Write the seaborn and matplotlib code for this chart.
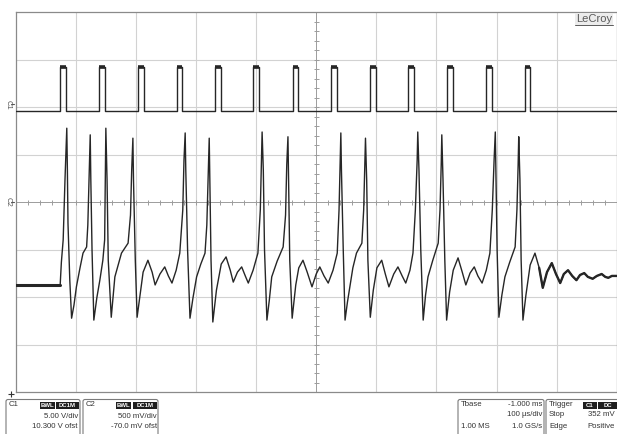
#!/usr/bin/env python
# -*- coding: utf-8 -*-

######################################################
# LeCroy scope capture: stimulus pulses (C1) and
# spiking response (C2), redrawn with seaborn
######################################################

import numpy as np
import pandas as pd
import matplotlib.pyplot as plt
import seaborn as sns
from matplotlib.patches import FancyBboxPatch, Rectangle

OUTPUT = "out.png"

# scope settings
T_DIV = 100.0          # us / div
C1_VDIV = 5.0          # V / div
C1_OFFSET = 10.3       # V
C2_VDIV = 500.0        # mV / div
C2_OFFSET = -70.0      # mV

# C1: pulse train, rising edges in us from left edge of screen
C1_RISE_US = [74, 139, 204, 268, 332, 395, 461, 525, 590, 653, 718, 783, 847]
C1_WIDTH_US = 9
C1_LOW_V = -0.65
C1_HIGH_V = 3.95

# C2: response trace, vertices (us, mV)
C2_TIME_US = [
    0, 74, 76, 79, 82, 85, 86, 87, 90, 93, 97, 101, 107, 112, 118, 120, 122, 124,
    125, 127, 130, 135, 140, 145, 148, 149, 150, 152, 154, 159, 165, 176, 187,
    191, 193, 195, 196, 199, 202, 207, 212, 220, 227, 232, 240, 248, 254, 260,
    267, 273, 278, 280, 282, 283, 286, 290, 295, 301, 308, 315, 318, 320, 322,
    323, 325, 328, 334, 342, 350, 357, 362, 369, 376, 382, 387, 395, 403, 407,
    409, 410, 412, 414, 418, 422, 426, 435, 445, 449, 451, 453, 454, 456, 460,
    466, 471, 478, 485, 493, 500, 506, 513, 520, 528, 535, 538, 540, 541, 542,
    545, 548, 552, 556, 561, 567, 576, 579, 581, 582, 584, 586, 590, 595, 601,
    609, 615, 621, 629, 636, 643, 649, 656, 661, 665, 668, 669, 671, 674, 678,
    682, 686, 694, 703, 706, 708, 709, 711, 714, 717, 722, 728, 736, 743, 749,
    756, 763, 769, 776, 783, 789, 793, 796, 798, 799, 801, 804, 809, 814, 822,
    831, 834, 836, 837, 839, 841, 844, 849, 856, 864, 871, 877, 884, 892, 899,
    906, 912, 919, 926, 933, 939, 946, 952, 960, 967, 975, 981, 986, 992, 1000,
]
C2_MV = [
    -800, -800, -560, -325, 305, 850, 410, -150, -750, -1150, -1010, -820, -620,
    -465, -400, -170, 305, 780, 305, -430, -1170, -935, -750, -540, -325, 305,
    850, 305, -540, -1140, -715, -465, -360, -65, 410, 745, 305, -540, -1140,
    -905, -665, -540, -665, -800, -685, -610, -705, -780, -645, -465, -10, 515,
    800, 410, -430, -1150, -935, -715, -580, -465, -170, 305, 745, 305, -540,
    -1190, -855, -580, -505, -645, -770, -665, -610, -705, -780, -645, -465, -10,
    515, 810, 410, -430, -1170, -960, -715, -550, -400, -65, 465, 760, 305, -540,
    -1150, -800, -620, -540, -665, -820, -685, -610, -705, -780, -645, -465, -10,
    515, 800, 410, -430, -1170, -980, -820, -620, -465, -360, -10, 465, 745, 305,
    -540, -1140, -855, -620, -540, -685, -820, -685, -610, -705, -780, -645, -465,
    -10, 515, 810, 410, -430, -1170, -905, -715, -540, -360, -10, 465, 780, 305,
    -540, -1170, -875, -645, -515, -665, -800, -675, -610, -705, -780, -645, -465,
    -10, 515, 810, 410, -430, -1140, -905, -715, -560, -400, -10, 465, 760, 305,
    -540, -1170, -905, -590, -465, -620, -830, -665, -570, -685, -780, -685, -645,
    -705, -750, -695, -675, -715, -735, -705, -685, -715, -725, -705, -705,
]

TRACE = "#262626"
GRID = "#d2d2d2"
AXIS = "#9c9c9c"


def pulse_train(rises, width, low, high, t_end=1000):
    """ step trace from rising edge times """
    t, v = [0], [low]
    for r in rises:
        t += [r, r, r + width, r + width]
        v += [low, high, high, low]
    t.append(t_end)
    v.append(low)
    return t, v


def main():
    sns.set_style("white")
    plt.rcParams['font.family'] = ['Liberation Sans', 'DejaVu Sans']

    fig = plt.figure(figsize=(6.17, 4.34), dpi=100)
    W, H = 617.0, 434.0
    ax = fig.add_axes([15.7 / W, 1 - 392.3 / H, 601.0 / W, 380.0 / H])

    # traces in screen divisions
    t1, v1 = pulse_train(C1_RISE_US, C1_WIDTH_US, C1_LOW_V, C1_HIGH_V)
    c1 = pd.DataFrame({"x": np.array(t1) / T_DIV - 5,
                       "y": (np.array(v1) + C1_OFFSET) / C1_VDIV})
    c2 = pd.DataFrame({"x": np.array(C2_TIME_US) / T_DIV - 5,
                       "y": (np.array(C2_MV) + C2_OFFSET) / C2_VDIV})

    # graticule
    for i in range(-4, 5):
        if i != 0:
            ax.axvline(i, color=GRID, lw=0.8, zorder=1)
    for j in range(-3, 4):
        if j != 0:
            ax.axhline(j, color=GRID, lw=0.8, zorder=1)
    ax.axhline(0, color=AXIS, lw=0.7, zorder=1)
    ax.axvline(0, color=AXIS, lw=0.7, zorder=1)
    xt = np.arange(-25, 26) * 0.2
    yt = np.arange(-20, 21) * 0.2
    ax.vlines(xt, -0.05, 0.05, color=AXIS, lw=0.7, zorder=1)
    ax.hlines(yt, -0.04, 0.04, color=AXIS, lw=0.7, zorder=1)

    sns.lineplot(data=c1, x="x", y="y", sort=False, estimator=None,
                 color=TRACE, lw=1.0, ax=ax, zorder=3)
    tops = c1[np.isclose(c1["y"], (C1_HIGH_V + C1_OFFSET) / C1_VDIV)]
    for k in range(0, len(tops), 2):
        ax.plot(tops["x"].iloc[k:k + 2], tops["y"].iloc[k:k + 2],
                color=TRACE, lw=2.6, solid_capstyle="butt", zorder=3)

    sns.lineplot(data=c2, x="x", y="y", sort=False, estimator=None,
                 color=TRACE, lw=1.0, ax=ax, zorder=3)
    # noisy flat parts look heavier on the screen
    ax.plot(c2["x"][:2], c2["y"][:2], color=TRACE, lw=2.2, zorder=3)
    tail = c2[c2["x"] >= 8.71 - 5]
    ax.plot(tail["x"], tail["y"], color=TRACE, lw=1.7, zorder=3)

    ax.set_xlim(-5, 5)
    ax.set_ylim(-4, 4)
    ax.set_xticks([])
    ax.set_yticks([])
    ax.set_xlabel("")
    ax.set_ylabel("")
    for s in ax.spines.values():
        s.set_color("#8a8a8a")
        s.set_linewidth(0.9)

    # screen chrome in pixel coordinates
    ov = fig.add_axes([0, 0, 1, 1])
    ov.set_xlim(0, W)
    ov.set_ylim(H, 0)
    ov.axis("off")
    ov.patch.set_alpha(0)

    # channel markers
    y_c1 = 202.3 - C1_OFFSET / C1_VDIV * 47.5
    ov.text(8, y_c1, "C1", rotation=270, fontsize=5.5, color="#555555",
            ha="center", va="center")
    ov.text(8, 202.3, "C2", rotation=270, fontsize=5.5, color="#555555",
            ha="center", va="center")
    ov.plot([11, 14], [y_c1, y_c1], color="#555555", lw=0.8)
    ov.plot([11, 14], [202.3, 202.3], color="#555555", lw=0.8)
    ov.plot([11], [393.5], marker="+", ms=4, color="#333333", mew=0.8)

    # logo
    ov.text(594, 19, "LeCroy", fontsize=8, color="#5a5a5a", ha="center",
            va="center", bbox=dict(facecolor="#ececec", edgecolor="none", pad=1))
    ov.plot([575, 613], [24.5, 24.5], color="#5a5a5a", lw=0.7)

    fs = 5.6

    def box(x0, x1):
        ov.add_patch(FancyBboxPatch((x0, 399.5), x1 - x0, 40,
                                    boxstyle="round,pad=0,rounding_size=2",
                                    ec="#7a7a7a", fc="white", lw=0.8))

    def badge(x0, x1, label):
        ov.add_patch(Rectangle((x0, 401.5), x1 - x0, 7, fc="#1e1e1e", ec="none"))
        ov.text((x0 + x1) / 2, 405.2, label, color="white", fontsize=4.3,
                fontweight="bold", ha="center", va="center")

    # C1 box
    box(6, 80)
    ov.text(9, 404.5, "C1", fontsize=fs, ha="left", va="center", color="#333")
    badge(40, 55, "BWL")
    badge(56, 79, "DC1M")
    ov.text(78, 416, "5.00 V/div", fontsize=fs, ha="right", va="center", color="#333")
    ov.text(78, 426.5, "10.300 V ofst", fontsize=fs, ha="right", va="center", color="#333")

    # C2 box
    box(83, 158)
    ov.text(86, 404.5, "C2", fontsize=fs, ha="left", va="center", color="#333")
    badge(116, 131, "BWL")
    badge(133, 157, "DC1M")
    ov.text(157, 416, "500 mV/div", fontsize=fs, ha="right", va="center", color="#333")
    ov.text(157, 426.5, "-70.0 mV ofst", fontsize=fs, ha="right", va="center", color="#333")

    # timebase box
    box(458, 544)
    ov.text(461, 405, "Tbase", fontsize=fs, ha="left", va="center", color="#333")
    ov.text(542, 405, "-1.000 ms", fontsize=fs, ha="right", va="center", color="#333")
    ov.text(542, 415, "100 \u00b5s/div", fontsize=fs, ha="right", va="center", color="#333")
    ov.text(461, 426, "1.00 MS", fontsize=fs, ha="left", va="center", color="#333")
    ov.text(542, 426, "1.0 GS/s", fontsize=fs, ha="right", va="center", color="#333")

    # trigger box
    box(546, 622)
    ov.text(549, 405, "Trigger", fontsize=fs, ha="left", va="center", color="#333")
    badge(583, 597, "C1")
    badge(598, 617, "DC")
    ov.text(549, 415, "Stop", fontsize=fs, ha="left", va="center", color="#333")
    ov.text(615, 415, "352 mV", fontsize=fs, ha="right", va="center", color="#333")
    ov.text(549, 426, "Edge", fontsize=fs, ha="left", va="center", color="#333")
    ov.text(615, 426, "Positive", fontsize=fs, ha="right", va="center", color="#333")

    fig.savefig(OUTPUT, dpi=100, facecolor="white")


if __name__ == "__main__":
    main()
